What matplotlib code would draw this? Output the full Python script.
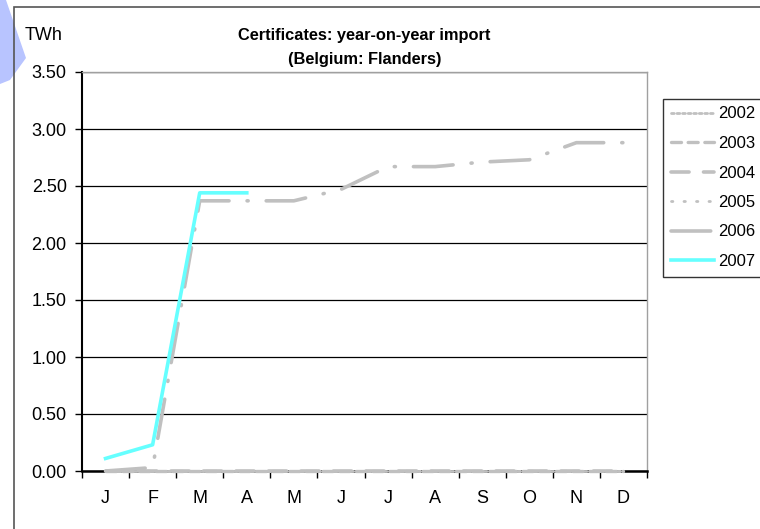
import matplotlib
matplotlib.use('Agg')
import matplotlib.pyplot as plt
from matplotlib.patches import Rectangle, Polygon

plt.rcParams['font.family'] = ['Liberation Sans', 'DejaVu Sans']

# data (TWh)
months = ['J', 'F', 'M', 'A', 'M', 'J', 'J', 'A', 'S', 'O', 'N', 'D']
y2002 = [0, 0, 0, 0, 0, 0, 0, 0, 0, 0, 0, 0]
y2003 = [0, 0, 0, 0, 0, 0, 0, 0, 0, 0, 0, 0]
y2004 = [0, 0, 0, 0, 0, 0, 0, 0, 0, 0, 0, 0]
y2005 = [0, 0, 0, 0, 0, 0, 0, 0, 0, 0, 0, 0]
y2006 = [0.0, 0.03, 2.37, 2.37, 2.37, 2.47, 2.67, 2.67, 2.71, 2.73, 2.88, 2.88]
y2007 = [0.11, 0.23, 2.44, 2.44]

fig = plt.figure(figsize=(7.6, 5.29), dpi=100)

# decorative blue shape top-left
fig.patches.append(Polygon([(0, 1), (6 / 760, 1), (26 / 760, 1 - 58 / 529),
                            (10 / 760, 1 - 80 / 529), (0, 1 - 84 / 529)],
                           closed=True, transform=fig.transFigure,
                           facecolor='#b8c4ff', edgecolor='none', zorder=0))
# chart border
fig.patches.append(Rectangle((14 / 760, -0.05), 1.0, 1 - 7 / 529 + 0.05,
                             transform=fig.transFigure, facecolor='none',
                             edgecolor='#555555', linewidth=1.2, zorder=1))

ax = fig.add_axes([82 / 760, 1 - 471 / 529, (647 - 82) / 760, (471 - 72) / 529])
ax.patch.set_alpha(0)

x = list(range(len(months)))
grey = '#c0c0c0'
kw = dict(color=grey, zorder=3, clip_on=False, dash_capstyle='round')
ax.plot(x, y2002, lw=2, linestyle=(0, (1, 1)), label='2002', **kw)
ax.plot(x, y2003, lw=2.4, linestyle=(0, (3, 2)), label='2003', **kw)
ax.plot(x, y2004, lw=2.6, linestyle=(0, (5, 4)), label='2004', **kw)
ax.plot(x, y2005, lw=2, linestyle=(0, (0.5, 4, 0.5, 4)), label='2005', **kw)
ax.plot(x, y2006, lw=2.6, linestyle=(0, (11, 5, 0.3, 5)), label='2006', **kw)
ax.plot(x[:len(y2007)], y2007, color='#66ffff', lw=2.6, zorder=4, label='2007')

ax.set_xlim(-0.5, 11.5)
ax.set_ylim(0, 3.5)
ax.set_yticks([0, 0.5, 1, 1.5, 2, 2.5, 3, 3.5])
ax.set_yticklabels(['{:.2f}'.format(v) for v in ax.get_yticks()], fontsize=13)
ax.yaxis.grid(True, color='black', linewidth=0.9)
ax.set_axisbelow(True)

# month labels centred, ticks at category boundaries
ax.set_xticks([i - 0.5 for i in range(13)])
ax.set_xticklabels([])
ax.set_xticks(x, minor=True)
ax.set_xticklabels(months, minor=True, fontsize=13)
ax.tick_params(axis='x', which='minor', length=0, pad=14)
ax.tick_params(axis='x', which='major', length=5, width=1, direction='out')
ax.tick_params(axis='y', length=5, width=1, direction='out', pad=6)

for s in ['top', 'right']:
    ax.spines[s].set_color('#a0a0a0')
    ax.spines[s].set_linewidth(1)
ax.spines['left'].set_linewidth(1.5)
ax.spines['bottom'].set_linewidth(1.8)

ax.set_title('Certificates: year-on-year import\n(Belgium: Flanders)',
             fontsize=11.8, fontweight='bold', pad=6, linespacing=1.75)
fig.text(25 / 760, 1 - 36 / 529, 'TWh', fontsize=13, va='center', ha='left')

leg = fig.legend(loc='upper left', bbox_to_anchor=(663 / 760, 1 - 99 / 529),
                 fontsize=12, frameon=True, fancybox=False, handlelength=2.6,
                 handletextpad=0.25, borderpad=0.45, labelspacing=0.87,
                 borderaxespad=0)
leg.get_frame().set_edgecolor('black')
leg.get_frame().set_linewidth(1)

fig.savefig('out.png', dpi=100)
